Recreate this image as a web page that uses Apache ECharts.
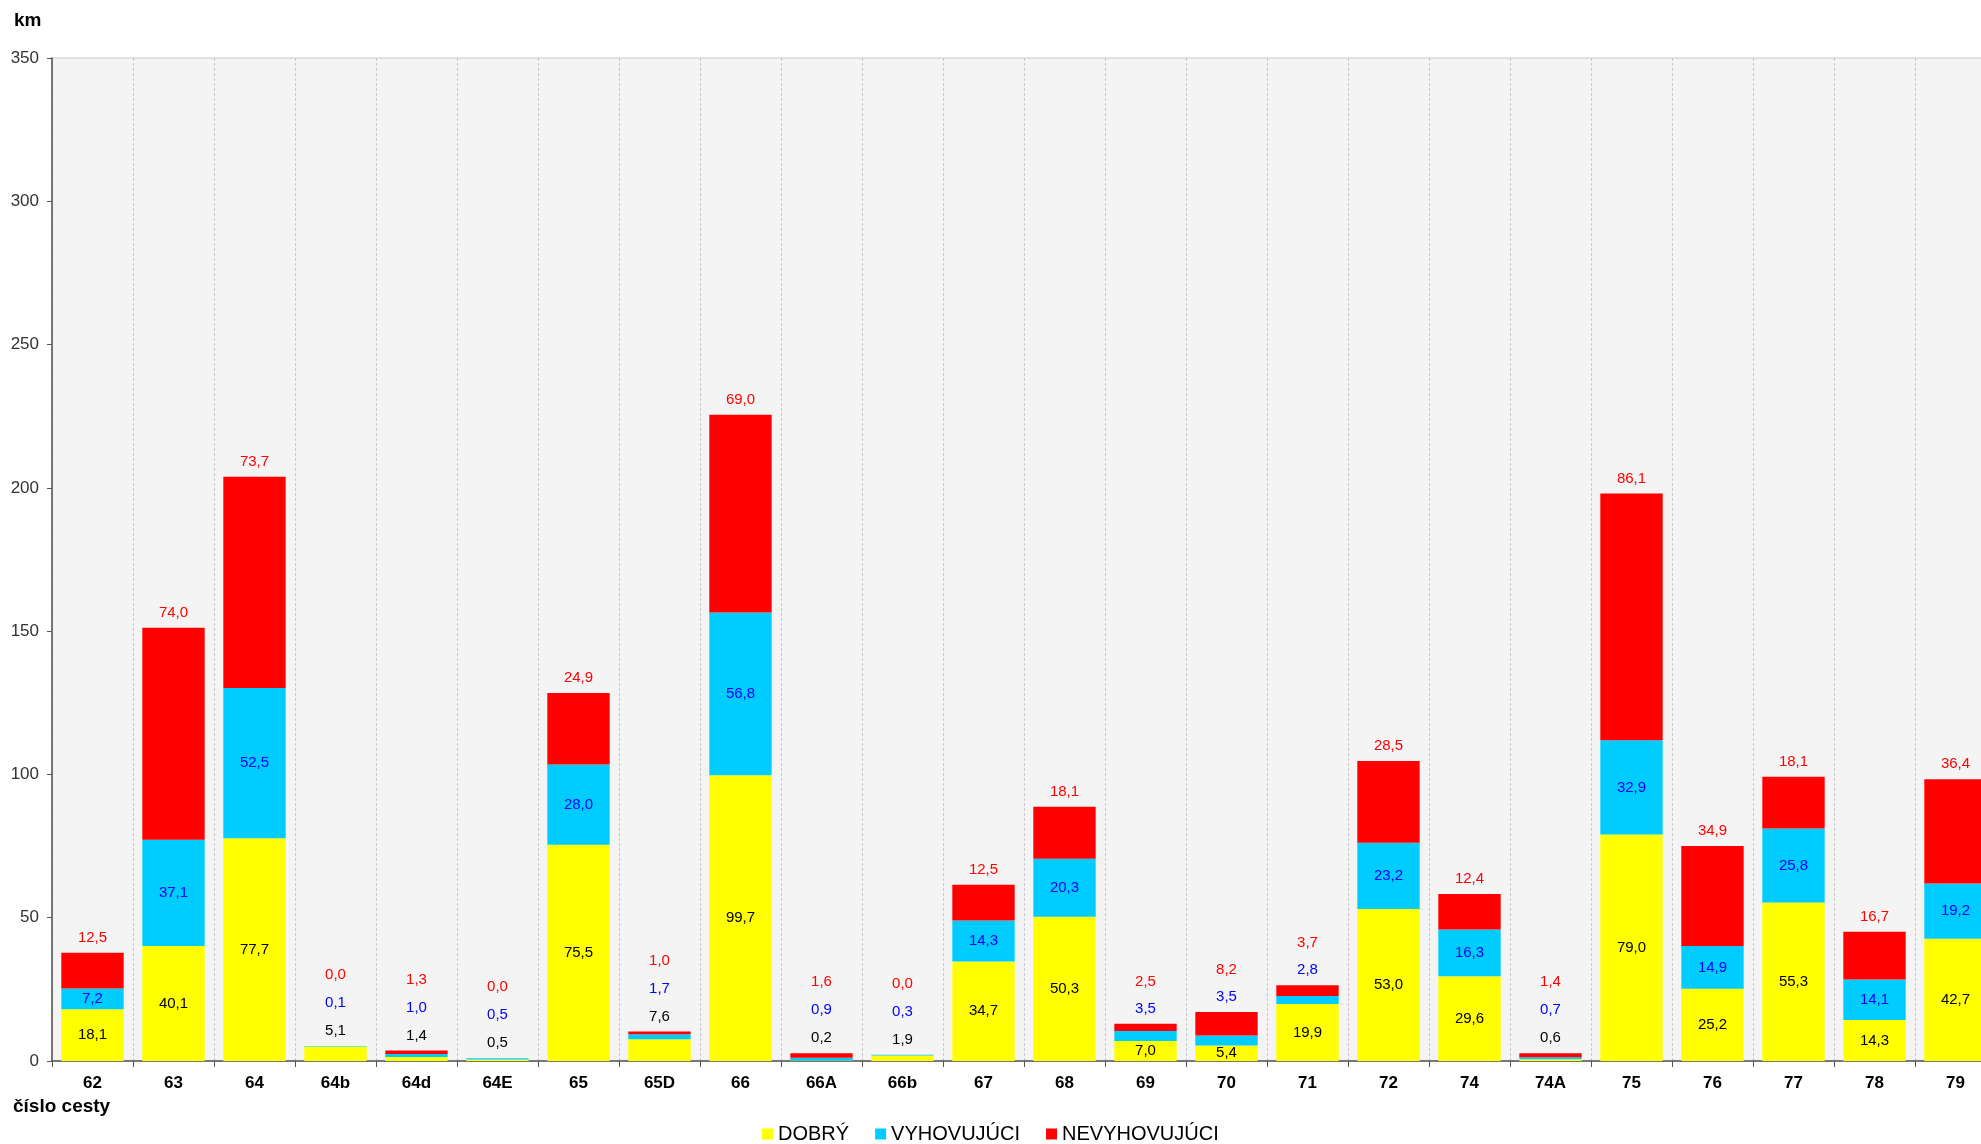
<!DOCTYPE html>
<html>
<head>
<meta charset="utf-8">
<script src="https://cdn.jsdelivr.net/npm/echarts@6/dist/echarts.min.js"></script>
<style>
html,body{margin:0;padding:0;background:#fff;}
#chart{width:1981px;height:1144px;}
</style>
</head>
<body>
<div id="chart"></div>
<script>
const categories = ['62','63','64','64b','64d','64E','65','65D','66','66A','66b','67','68','69','70','71','72','74','74A','75','76','77','78','79'];
const dobry        = [18.1,40.1,77.7,5.1,1.4,0.5,75.5,7.6,99.7,0.2,1.9,34.7,50.3,7.0,5.4,19.9,53.0,29.6,0.6,79.0,25.2,55.3,14.3,42.7];
const vyhovujuci   = [7.2,37.1,52.5,0.1,1.0,0.5,28.0,1.7,56.8,0.9,0.3,14.3,20.3,3.5,3.5,2.8,23.2,16.3,0.7,32.9,14.9,25.8,14.1,19.2];
const nevyhovujuci = [12.5,74.0,73.7,0.0,1.3,0.0,24.9,1.0,69.0,1.6,0.0,12.5,18.1,2.5,8.2,3.7,28.5,12.4,1.4,86.1,34.9,18.1,16.7,36.4];
const seriesNames  = ['DOBRÝ','VYHOVUJÚCI','NEVYHOVUJÚCI'];
const yTicks = [0,50,100,150,200,250,300,350];

// label layout groups (which categories have their labels lifted above the bar)
const labelsAllAbove = ['64b','64d','64E','65D','66A','66b','74A'];
const labelsUpperAbove = ['69','70','71'];

const W = 1981, H = 1144;
const GRID = {left: 52, width: 1944, top: 58, bottom: 83};
const YMAX = 350;
const ppu = (H - GRID.top - GRID.bottom) / YMAX;
const FONT = 'Liberation Sans, Arial, sans-serif';
const colors = ['#ffff00', '#00ccff', '#ff0000'];
const labelColors = ['#000000', '#0000ff', '#ff0000'];
const values = [dobry, vyhovujuci, nevyhovujuci];
const fmt = v => v.toFixed(1).replace('.', ',');

function buildData(s) {
  return categories.map((c, i) => {
    const vals = values.map(a => a[i]);
    let segTop = 0;
    for (let k = 0; k <= s; k++) segTop += vals[k];
    const total = vals[0] + vals[1] + vals[2];
    let desired = null;
    if (labelsAllAbove.includes(c)) desired = [15, 43, 71][s];
    else if (labelsUpperAbove.includes(c) && s > 0) desired = [0, 15, 42][s];
    else if (s === 2) desired = 15;
    let label;
    if (desired === null) {
      label = {position: 'inside'};
    } else {
      const gap = (total - segTop) * ppu;
      label = {position: 'top', distance: 0, offset: [0, -(gap + desired - 8)]};
    }
    return {value: vals[s], label: label};
  });
}

const chart = echarts.init(document.getElementById('chart'));
const series = seriesNames.map((name, s) => ({
  name: name,
  type: 'bar',
  stack: 'total',
  barWidth: '77%',
  itemStyle: {color: colors[s]},
  label: {
    show: true,
    color: labelColors[s],
    fontFamily: FONT,
    fontSize: 15,
    lineHeight: 16,
    formatter: p => fmt(p.value)
  },
  emphasis: {disabled: true},
  data: buildData(s)
}));

chart.setOption({
  animation: false,
  backgroundColor: '#ffffff',
  textStyle: {fontFamily: FONT},
  grid: {
    left: GRID.left, width: GRID.width, top: GRID.top, bottom: GRID.bottom,
    outerBoundsMode: 'none',
    containLabel: false,
    show: true, backgroundColor: '#f4f4f4', borderColor: '#c8c8c8', borderWidth: 1
  },
  legend: {
    data: seriesNames,
    left: 757,
    top: 1119,
    icon: 'rect',
    itemWidth: 11,
    itemHeight: 11,
    itemGap: 26,
    textStyle: {fontFamily: FONT, fontSize: 20, color: '#000'}
  },
  xAxis: {
    type: 'category',
    data: categories,
    boundaryGap: true,
    axisLine: {show: true, lineStyle: {color: '#555', width: 1.5}},
    axisTick: {show: true, length: 6, lineStyle: {color: '#555'}},
    axisLabel: {fontFamily: FONT, fontSize: 17, fontWeight: 'bold', color: '#000', margin: 14},
    splitLine: {show: true, lineStyle: {color: '#c8c8c8', type: [3, 2], width: 1}}
  },
  yAxis: {
    type: 'value',
    min: yTicks[0],
    max: yTicks[yTicks.length - 1],
    interval: yTicks[1] - yTicks[0],
    axisLine: {show: true, lineStyle: {color: '#555', width: 1.5}},
    axisTick: {show: true, length: 5, lineStyle: {color: '#555'}},
    axisLabel: {fontFamily: FONT, fontSize: 17, color: '#333', margin: 13},
    splitLine: {show: false}
  },
  graphic: [
    {type: 'text', left: 14, top: 11, style: {text: 'km', font: 'bold 19px ' + FONT, fill: '#000'}},
    {type: 'text', left: 13, top: 1097, style: {text: 'číslo cesty', font: 'bold 19px ' + FONT, fill: '#000'}}
  ],
  series: series
});
</script>
</body>
</html>
